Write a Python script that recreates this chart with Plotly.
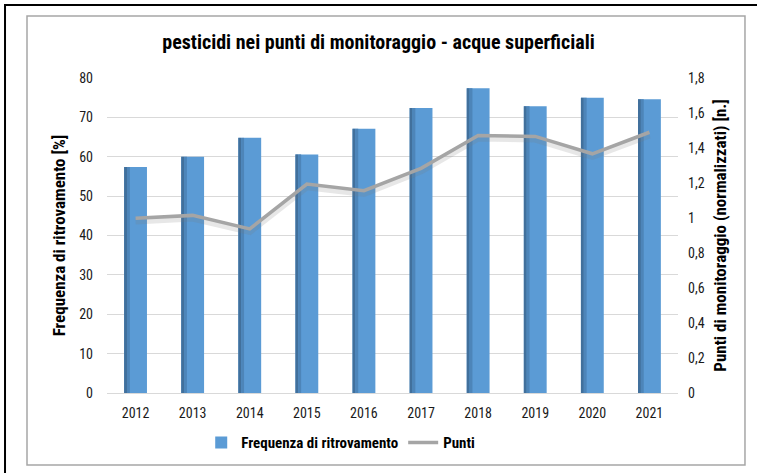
import plotly.graph_objects as go

years = ["2012", "2013", "2014", "2015", "2016", "2017", "2018", "2019", "2020", "2021"]
frequenza = [57.4, 60.0, 64.8, 60.6, 67.1, 72.4, 77.4, 72.8, 75.0, 74.6]
punti = [0.998, 1.015, 0.938, 1.194, 1.156, 1.284, 1.472, 1.466, 1.367, 1.49]

FONT = "Liberation Sans Narrow, Arial Narrow, Roboto Condensed, Liberation Sans, Arial, sans-serif"

fig = go.Figure()
fig.add_trace(go.Bar(x=years, y=frequenza, name="<b>Frequenza di ritrovamento</b>",
                     marker=dict(color="#5b9bd5", line=dict(width=0)),
                     width=0.4, offset=-0.2))
# darker left-edge shading of the bars
fig.add_trace(go.Bar(x=years, y=frequenza, showlegend=False, hoverinfo="skip",
                     marker=dict(color="#41709c", line=dict(width=0)),
                     width=0.05, offset=-0.2))
fig.add_trace(go.Bar(x=years, y=frequenza, showlegend=False, hoverinfo="skip",
                     marker=dict(color="#4d85b9", line=dict(width=0)),
                     width=0.05, offset=-0.15))
# shadow of the line
fig.add_trace(go.Scatter(x=years, y=[v - 0.015 for v in punti], yaxis="y2", mode="lines",
                         line=dict(color="rgba(120,120,120,0.18)", width=7),
                         showlegend=False, hoverinfo="skip"))
fig.add_trace(go.Scatter(x=years, y=punti, name="<b>Punti</b>", yaxis="y2", mode="lines",
                         line=dict(color="#a5a5a5", width=3.5)))

fig.update_layout(
    width=757, height=473,
    margin=dict(l=107, r=79, t=78, b=80, autoexpand=False),
    paper_bgcolor="white", plot_bgcolor="white",
    barmode="overlay",
    font=dict(family=FONT, size=14, color="#1a1a1a"),
    title=dict(text="<b>pesticidi nei punti di monitoraggio - acque superficiali</b>",
               x=0.5, xanchor="center", y=0.912, yanchor="middle",
               font=dict(size=20, color="#000000", family=FONT)),
    xaxis=dict(type="category", showgrid=False, showline=True, linecolor="#d9d9d9",
               linewidth=1, ticks="", tickfont=dict(size=14), ticklabelstandoff=7,
               automargin=False),
    yaxis=dict(range=[0, 80], dtick=10, showgrid=True, gridcolor="#d9d9d9", gridwidth=1,
               zeroline=False, showline=False, ticks="", tickfont=dict(size=14),
               ticklabelstandoff=13, automargin=False,
               title=dict(text="<b>Frequenza di ritrovamento [%]</b>", standoff=9,
                          font=dict(size=17, color="#000000"))),
    yaxis2=dict(range=[0, 1.8], dtick=0.2, overlaying="y", side="right", showgrid=False,
                zeroline=False, showline=False, ticks="", tickfont=dict(size=14),
                tickvals=[0, 0.2, 0.4, 0.6, 0.8, 1.0, 1.2, 1.4, 1.6, 1.8],
                ticktext=["0", "0,2", "0,4", "0,6", "0,8", "1", "1,2", "1,4", "1,6", "1,8"],
                ticklabelstandoff=9, automargin=False,
                title=dict(text="<b>Punti di monitoraggio (normalizzati) [n.]</b>", standoff=10,
                           font=dict(size=17, color="#000000"))),
    legend=dict(orientation="h", x=0.165, xanchor="left", y=-0.158, yanchor="middle",
                font=dict(size=15, color="#000000"), traceorder="normal",
                itemwidth=30, bgcolor="rgba(0,0,0,0)"),
    shapes=[
        dict(type="rect", xref="paper", yref="paper", x0=-0.1401, x1=1.1173, y0=-0.2286, y1=1.1968,
             line=dict(color="#a6a6a6", width=1.5), fillcolor="rgba(0,0,0,0)", layer="below"),
        dict(type="rect", xref="paper", yref="paper", x0=-0.1786, x1=1.16, y0=-0.28, y1=1.2317,
             line=dict(color="#000000", width=2), fillcolor="rgba(0,0,0,0)", layer="below"),
    ],
)

fig.write_html("out.html", config={"displayModeBar": False},
               post_script="document.body.style.margin='0';document.body.style.padding='0';"
                           "document.documentElement.style.overflow='hidden';")
